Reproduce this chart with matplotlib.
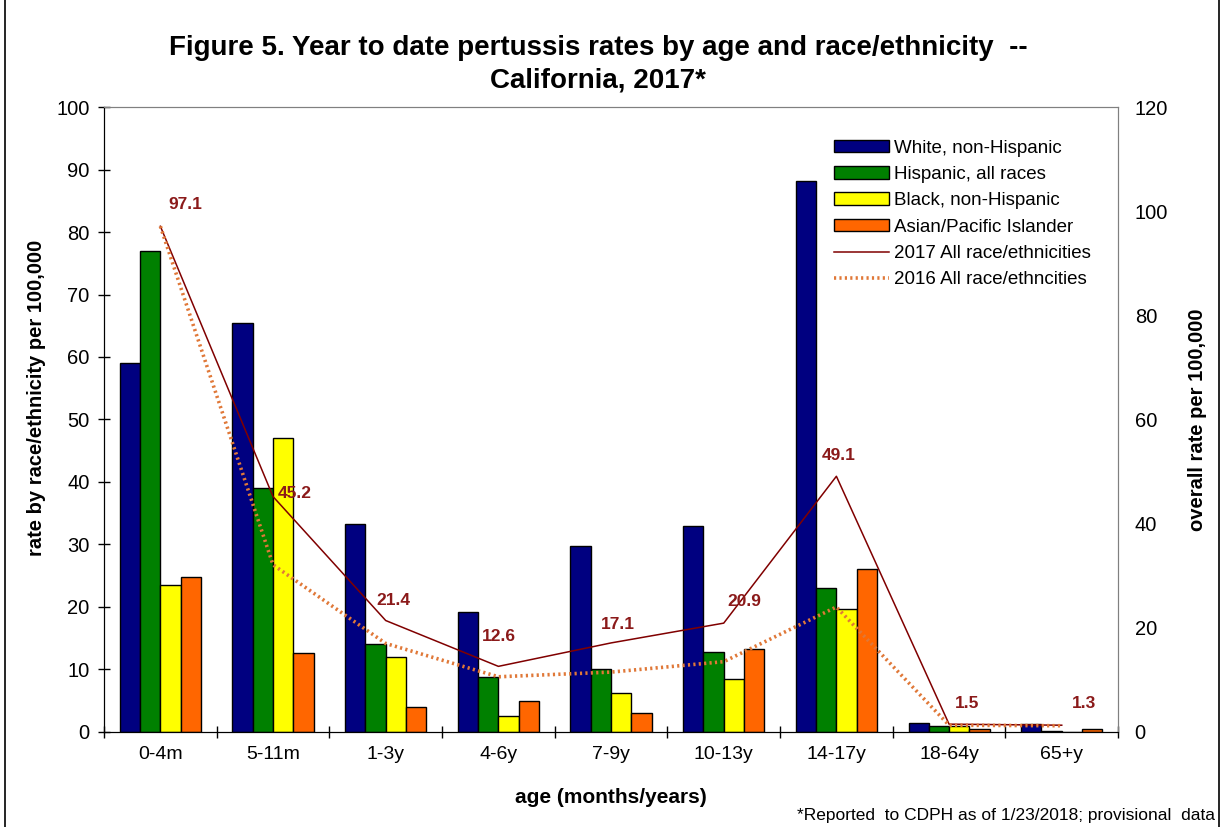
import numpy as np
import matplotlib
matplotlib.use("Agg")
import matplotlib.pyplot as plt
from matplotlib.patches import Rectangle

plt.rcParams['font.family'] = ['Liberation Sans', 'DejaVu Sans']

ages = ["0-4m", "5-11m", "1-3y", "4-6y", "7-9y", "10-13y", "14-17y", "18-64y", "65+y"]
white    = [59.0, 65.4, 33.2, 19.2, 29.8, 33.0, 88.2, 1.5, 1.3]
hispanic = [77.0, 39.0, 14.0, 8.8, 10.0, 12.8, 23.1, 1.0, 0.2]
black    = [23.5, 47.1, 12.0, 2.6, 6.3, 8.5, 19.6, 1.0, 0.0]
asian    = [24.8, 12.6, 4.0, 5.0, 3.1, 13.2, 26.0, 0.4, 0.5]
all2017  = [97.1, 45.2, 21.4, 12.6, 17.1, 20.9, 49.1, 1.5, 1.3]
all2016  = [97.1, 32.1, 17.0, 10.6, 11.5, 13.5, 24.0, 1.3, 1.2]

series = [("White, non-Hispanic", white, "#000080"),
          ("Hispanic, all races", hispanic, "#008000"),
          ("Black, non-Hispanic", black, "#FFFF00"),
          ("Asian/Pacific Islander", asian, "#FF6600")]

# label offsets (px) for the 2017 values
offs = [(25, 22), (22, 3), (8, 20), (0, 30), (7, 18), (21, 22), (2, 21), (18, 21), (22, 22)]

fig = plt.figure(figsize=(12.21, 8.27), dpi=100)
ax = fig.add_axes([0.0852, 0.1149, 0.8305, 0.7557])
ax2 = ax.twinx()

x = np.arange(len(ages))
w = 0.18
handles = []
for i, (name, vals, col) in enumerate(series):
    b = ax.bar(x + (i - 1.5) * w, vals, w, color=col, edgecolor="black", lw=1, label=name, zorder=2)
    handles.append(b)

l1, = ax2.plot(x, all2017, color="#800000", lw=1.1, label="2017 All race/ethnicities", zorder=3)
l2, = ax2.plot(x, all2016, color="#E07838", lw=2.6, ls=(0, (0.6, 0.9)), label="2016 All race/ethncities", zorder=3)
for xi, v, (dx, dy) in zip(x, all2017, offs):
    ax2.annotate(f"{v:.1f}", (xi, v), xytext=(dx * 0.72, dy * 0.72), textcoords="offset points",
                 ha="center", va="center", color="#8B1A1A", fontsize=12.5, fontweight="bold")

ax.set_xlim(-0.5, len(ages) - 0.5)
ax.set_ylim(0, 100)
ax2.set_ylim(0, 120)
ax.set_yticks(np.arange(0, 101, 10))
ax2.set_yticks(np.arange(0, 121, 20))
ax.set_xticks(x)
ax.set_xticklabels(ages)
ax.set_xticks(np.arange(-0.5, len(ages), 1), minor=True)
ax.tick_params(axis="x", which="major", length=0, labelsize=14, pad=10)
ax.tick_params(axis="x", which="minor", direction="inout", length=9, width=1)
ax.tick_params(axis="y", direction="inout", length=9, width=1, labelsize=14.5, pad=6)
ax2.tick_params(axis="y", length=0, labelsize=14.5, pad=12)

for a in (ax, ax2):
    a.spines["top"].set_color("#808080")
    a.spines["right"].set_color("#808080")
    a.spines["left"].set_color("black")
    a.spines["bottom"].set_color("black")

ax.set_ylabel("rate by race/ethnicity per 100,000", fontsize=14.5, fontweight="bold", labelpad=10)
ax.yaxis.set_label_coords(-0.057, 0.535)
ax2.set_ylabel("overall rate per 100,000", fontsize=14.5, fontweight="bold", labelpad=14)
ax.set_xlabel("age (months/years)", fontsize=15, fontweight="bold", labelpad=18)

fig.suptitle("Figure 5. Year to date pertussis rates by age and race/ethnicity  --\nCalifornia, 2017*",
             x=0.49, y=0.958, fontsize=20, fontweight="bold", linespacing=1.35)

ax2.legend(handles + [l1, l2], [h.get_label() for h in handles + [l1, l2]],
           loc="upper right", bbox_to_anchor=(0.99, 0.975), frameon=False, fontsize=13.5,
           handlelength=2.9, handleheight=0.65, labelspacing=0.5, handletextpad=0.3)

fig.text(0.995, 0.005, "*Reported  to CDPH as of 1/23/2018; provisional  data", ha="right", va="bottom", fontsize=12.5)
fig.patches.append(Rectangle((0.004, -0.01), 0.994, 1.03, transform=fig.transFigure,
                             fill=False, edgecolor="black", lw=1.2))

fig.savefig("out.png", dpi=100)
